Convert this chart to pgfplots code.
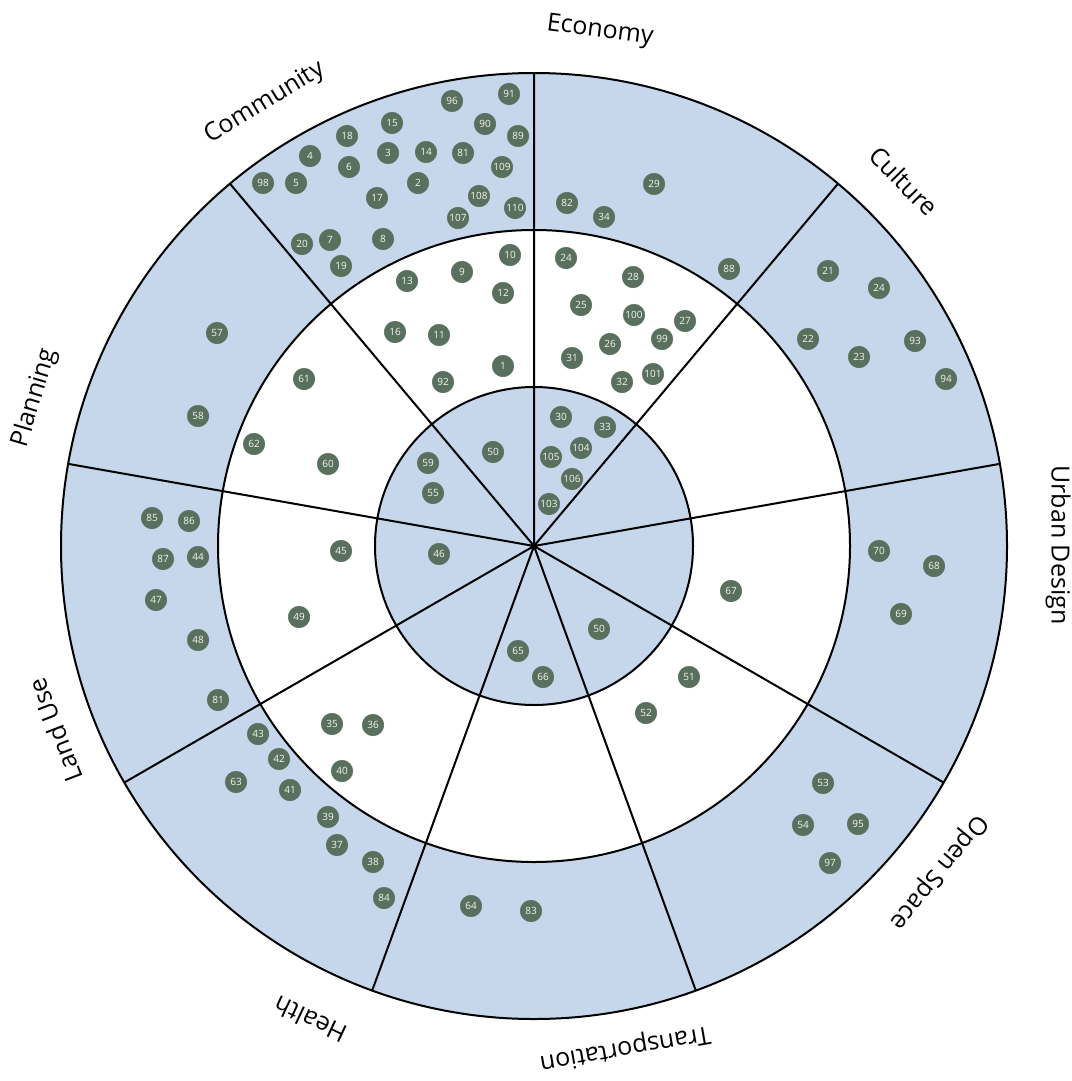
\documentclass[border=0pt]{standalone}
\usepackage{pgfplots}
\pgfplotsset{compat=1.18}
\usepackage{fontspec}
\setmainfont{Open Sans}

\definecolor{ringblue}{HTML}{C6D7EB}
\definecolor{dotgreen}{HTML}{5A705E}
\definecolor{dottext}{HTML}{F2F6EC}

% dot centres in picture pixels (y grows downwards), label = item number
\pgfplotstableread{
x y label
263 183 98
296 183 5
310 156 4
347 136 18
349 167 6
392 123 15
388 153 3
426 152 14
418 183 2
377 198 17
452 101 96
509 94 91
485 124 90
518 136 89
463 153 81
502 167 109
479 196 108
458 218 107
515 208 110
302 244 20
330 240 7
341 266 19
383 239 8
407 281 13
462 272 9
510 255 10
503 293 12
395 332 16
439 335 11
443 382 92
503 366 1
654 184 29
567 203 82
604 217 34
729 269 88
566 258 24
633 277 28
581 305 25
634 315 100
685 321 27
610 344 26
662 339 99
572 358 31
622 382 32
653 374 101
561 417 30
605 427 33
581 448 104
551 457 105
572 479 106
549 504 103
493 452 50
428 463 59
433 493 55
439 554 46
217 333 57
198 416 58
304 379 61
254 444 62
328 464 60
152 518 85
189 521 86
163 559 87
198 557 44
156 600 47
198 640 48
218 700 81
341 551 45
299 617 49
258 734 43
279 759 42
236 782 63
290 790 41
328 817 39
337 845 37
373 862 38
384 898 84
332 724 35
373 725 36
342 771 40
731 591 67
599 629 50
518 651 65
543 677 66
689 677 51
646 713 52
828 271 21
879 288 24
808 339 22
859 357 23
915 341 93
946 379 94
879 551 70
934 566 68
901 614 69
823 783 53
803 825 54
858 824 95
830 863 97
471 906 64
531 911 83
}\dots

\begin{document}
\begin{tikzpicture}
\begin{axis}[
  width=1071pt, height=1081pt, scale only axis,
  xmin=0, xmax=1071, ymin=0, ymax=1081,
  y dir=reverse, hide axis, clip=false,
]
  % rings
  \fill[ringblue] (axis cs:534,546) circle[radius=473];
  \fill[white] (axis cs:534,546) circle[radius=316];
  \fill[ringblue] (axis cs:534,546) circle[radius=159];
  \draw[line width=2pt] (axis cs:534,546) circle[radius=473];
  \draw[line width=2pt] (axis cs:534,546) circle[radius=316];
  \draw[line width=2pt] (axis cs:534,546) circle[radius=159];

  % sector borders
  \addplot[black, line width=2pt, unbounded coords=jump] coordinates {
    (534,546) (534,73) (nan,nan)
    (534,546) (229.96,183.66) (nan,nan)
    (534,546) (68.19,463.86) (nan,nan)
    (534,546) (124.37,782.5) (nan,nan)
    (534,546) (372.22,990.47) (nan,nan)
    (534,546) (695.78,990.47) (nan,nan)
    (534,546) (943.63,782.5) (nan,nan)
    (534,546) (999.81,463.86) (nan,nan)
    (534,546) (838.04,183.66)
  };

  \addplot[only marks, color=dotgreen, mark=*, mark size=10.8pt,
    mark options={fill=dotgreen, draw=dotgreen, line width=0.5pt},
    point meta=explicit symbolic,
    nodes near coords,
    nodes near coords style={anchor=center, text=dottext,
      font=\fontsize{10}{10}\selectfont, inner sep=0pt},
  ] table[x=x, y=y, meta=label] \dots;

  % sector names
  \begin{scope}[font=\fontsize{25}{25}\selectfont]
  \node[rotate=-7.3]  at (axis cs:600,31)  {Economy};
  \node[rotate=31.3]  at (axis cs:265,103) {Community};
  \node[rotate=-45.4] at (axis cs:904,181) {Culture};
  \node[rotate=-90]   at (axis cs:1058,545) {Urban Design};
  \node[rotate=-129]  at (axis cs:938,872) {Open Space};
  \node[rotate=-170]  at (axis cs:625,1048) {Transportation};
  \node[rotate=154.7] at (axis cs:310,1020) {Health};
  \node[rotate=111]   at (axis cs:55,730)  {Land Use};
  \node[rotate=73.5]  at (axis cs:35,398)  {Planning};
  \end{scope}
\end{axis}
\pgfresetboundingbox
\path (0,0) rectangle (1071pt,1081pt);
\end{tikzpicture}
\end{document}
